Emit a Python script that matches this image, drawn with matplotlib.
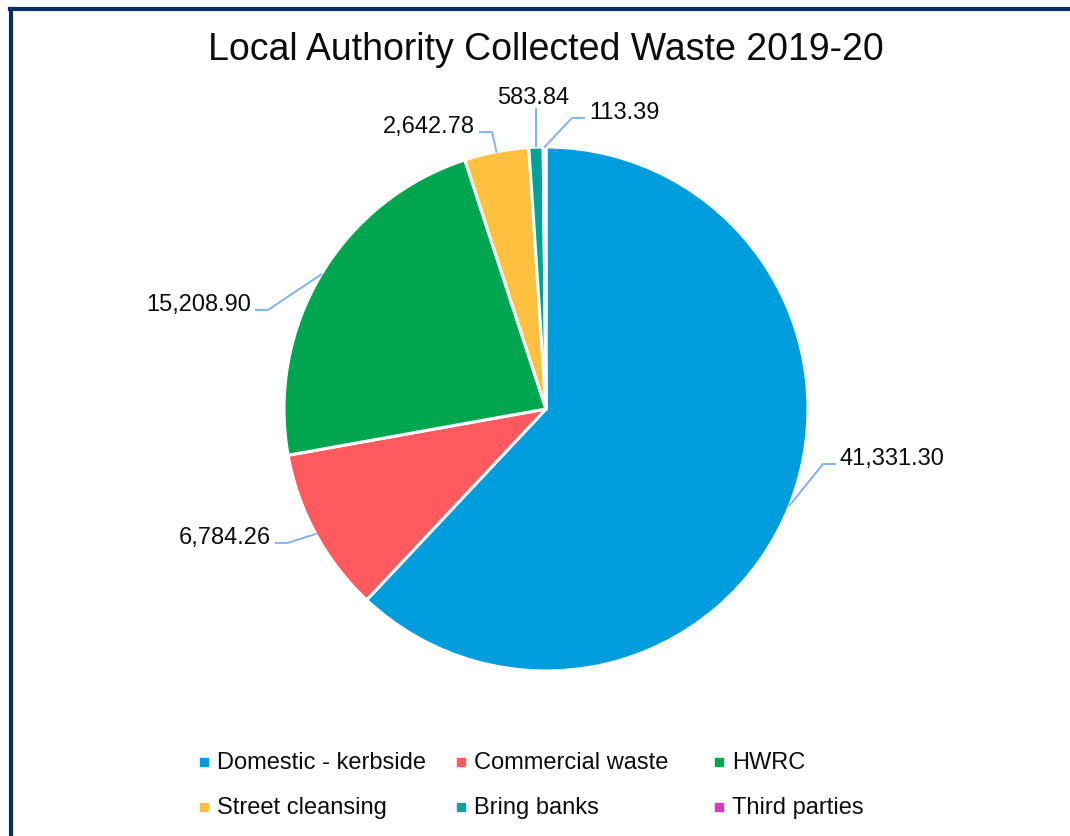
import matplotlib
matplotlib.use("Agg")
import matplotlib.pyplot as plt
import numpy as np
from matplotlib.lines import Line2D
from matplotlib.patches import Rectangle

plt.rcParams['font.family'] = ['Liberation Sans', 'DejaVu Sans']

# data
categories = ['Domestic - kerbside', 'Commercial waste', 'HWRC',
              'Street cleansing', 'Bring banks', 'Third parties']
tonnes = [41331.30, 6784.26, 15208.90, 2642.78, 583.84, 113.39]
colors = ['#009DDC', '#FF5A5F', '#00A64F', '#FFC040', '#00A39A', '#D63DB4']

# leader line elbow points (pie radius = 1) and which side the label sits
elbows = [(1.057, -0.210, 'right'), (-0.985, -0.511, 'left'),
          (-1.061, 0.378, 'left'), (-0.206, 1.057, 'left'),
          (-0.038, 1.149, 'top'), (0.099, 1.111, 'right')]

W, H = 1070, 836
cx, cy, R = 546, 409, 262

fig = plt.figure(figsize=(W / 100, H / 100), dpi=100)
ax = fig.add_axes([0, 0, 1, 1])

wedges, _ = ax.pie(tonnes, colors=colors, startangle=90, counterclock=False,
                   radius=1, center=(0, 0), frame=True,
                   wedgeprops=dict(edgecolor='white', linewidth=2.2))
ax.set_xlim(-cx / R, (W - cx) / R)
ax.set_ylim(-(H - cy) / R, cy / R)
ax.set_aspect('auto')
ax.axis('off')

line_col = '#82B1F4'
seg = 12 / R
gap = 5 / R
for w, val, (ex, ey, side) in zip(wedges, tonnes, elbows):
    mid = np.deg2rad((w.theta1 + w.theta2) / 2)
    sx, sy = np.cos(mid), np.sin(mid)
    txt = f"{val:,.2f}"
    if side == 'top':
        ax.plot([sx, ex], [sy, ey], color=line_col, lw=1.4, solid_capstyle='butt')
        ax.text(ex - 0.01, ey + 4 / R, txt, ha='center', va='baseline',
                fontsize=17, color='#0d0d0d')
    elif side == 'right':
        ax.plot([sx, ex, ex + seg], [sy, ey, ey], color=line_col, lw=1.4)
        ax.text(ex + seg + gap, ey - 1 / R, txt, ha='left', va='baseline',
                fontsize=17, color='#0d0d0d')
    else:
        ax.plot([sx, ex, ex - seg], [sy, ey, ey], color=line_col, lw=1.4)
        ax.text(ex - seg - gap, ey - 1 / R, txt, ha='right', va='baseline',
                fontsize=17, color='#0d0d0d')

fig.text(546 / W, 1 - 50 / H, 'Local Authority Collected Waste 2019-20',
         ha='center', va='center', fontsize=27, color='#0d0d0d')

# legend, laid out like the original: 3 equal columns, 2 rows
col_x = [204, 461, 719]
row_y = [762, 807]
for i, (lab, c) in enumerate(zip(categories, colors)):
    x = col_x[i % 3]
    y = row_y[i // 3]
    fig.patches.append(Rectangle(((x - 4) / W, 1 - (y + 4) / H), 8 / W, 8 / H,
                                 transform=fig.transFigure, color=c))
    fig.text((x + 13) / W, 1 - (y + 1) / H, lab, ha='left', va='center',
             fontsize=17, color='#0d0d0d')

# chart frame (left and top edges visible)
border = '#0B2D6B'
fig.add_artist(Line2D([11 / W, 11 / W], [0, 1 - 9 / H], color=border, lw=3,
                      transform=fig.transFigure))
fig.add_artist(Line2D([9.5 / W, 1], [1 - 9 / H, 1 - 9 / H], color=border, lw=3,
                      transform=fig.transFigure))

fig.savefig('out.png', dpi=100, facecolor='white')
